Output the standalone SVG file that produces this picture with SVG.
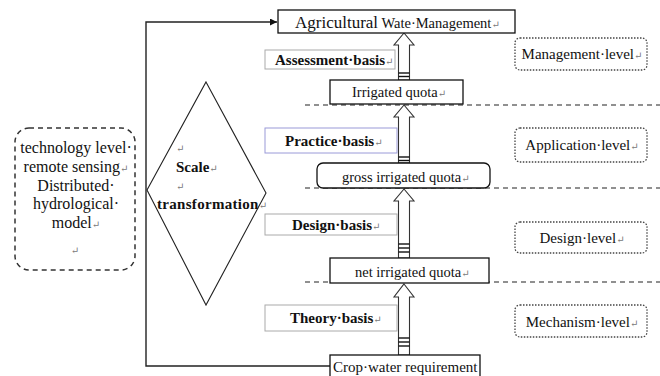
<svg xmlns="http://www.w3.org/2000/svg" width="660" height="376" viewBox="0 0 660 376" font-family="'Liberation Serif', 'DejaVu Serif', serif">
<defs>
<style>
text{font-family:'Liberation Serif','DejaVu Serif',serif;fill:#111;}
.t{font-size:14.5px;}
.lv{font-size:15px;}
.b{font-size:15px;font-weight:bold;}
.m{fill:#777;font-size:10px;font-weight:normal;}
.box{fill:#fff;stroke:#111;stroke-width:1.3;}
.gbox{fill:#fff;stroke:#aaa;stroke-width:1;}
.pbox{fill:#fff;stroke:#9a9ad8;stroke-width:1;}
.lvl{fill:#fff;stroke:#444;stroke-width:1.3;stroke-dasharray:1.5 1.5;}
.dash{stroke:#222;stroke-width:1.2;stroke-dasharray:5 4;fill:none;}
.harrow{fill:#fff;stroke:#333;stroke-width:1.1;}
.stripe{stroke:#111;stroke-width:1.4;}
.fb{fill:none;stroke:#222;stroke-width:1.4;}
.lt{font-size:16px;}
</style>
<marker id="ah" viewBox="0 0 10 10" refX="10" refY="5" markerWidth="7" markerHeight="7" markerUnits="userSpaceOnUse" orient="auto">
<path d="M0,0 L10,5 L0,10 z" fill="#111"/>
</marker>
</defs>

<g id="connectors">
<polyline class="fb" points="331,366 146,366 146,22 277,22" marker-end="url(#ah)"/>
<line class="dash" x1="305" y1="105" x2="660" y2="105"/>
<line class="dash" x1="305" y1="188" x2="660" y2="188"/>
<line class="dash" x1="305" y1="282" x2="660" y2="282"/>
<g id="arrow1">
<polygon class="harrow" points="404,33 414,45 409.5,45 409.5,80 398.5,80 398.5,45 394,45"/>
<line class="stripe" x1="398.5" y1="73" x2="409.5" y2="73"/>
<line class="stripe" x1="398.5" y1="76.5" x2="409.5" y2="76.5"/>
</g>
<g id="arrow2">
<polygon class="harrow" points="404,105 414,117 409.5,117 409.5,163 398.5,163 398.5,117 394,117"/>
<line class="stripe" x1="398.5" y1="157" x2="409.5" y2="157"/>
<line class="stripe" x1="398.5" y1="160.5" x2="409.5" y2="160.5"/>
</g>
<g id="arrow3">
<polygon class="harrow" points="404,189 414,201 409.5,201 409.5,258 398.5,258 398.5,201 394,201"/>
<line class="stripe" x1="398.5" y1="244" x2="409.5" y2="244"/>
<line class="stripe" x1="398.5" y1="248" x2="409.5" y2="248"/>
<line class="stripe" x1="398.5" y1="252" x2="409.5" y2="252"/>
</g>
<g id="arrow4">
<polygon class="harrow" points="404,284 414,297 409.5,297 409.5,355 398.5,355 398.5,297 394,297"/>
<line class="stripe" x1="398.5" y1="338" x2="409.5" y2="338"/>
<line class="stripe" x1="398.5" y1="342" x2="409.5" y2="342"/>
<line class="stripe" x1="398.5" y1="346" x2="409.5" y2="346"/>
</g>
</g>

<g id="agri">
<rect class="box" x="278" y="10" width="237" height="23"/>
<text x="295" y="28"><tspan font-size="17">Agricultural</tspan><tspan font-size="14.5"> Wate·Management</tspan><tspan class="m">↵</tspan></text>
</g>

<g id="assessment">
<rect class="gbox" x="265" y="50" width="130" height="19"/>
<text class="b" x="275" y="65">Assessment·basis<tspan class="m">↵</tspan></text>
</g>

<g id="irrigated">
<rect class="box" x="330" y="80" width="133" height="24"/>
<text class="t" x="352" y="97">Irrigated quota<tspan class="m">↵</tspan></text>
</g>

<g id="practice">
<rect class="pbox" x="265" y="128" width="132" height="25"/>
<text class="b" x="285" y="146" font-size="16">Practice·basis<tspan class="m">↵</tspan></text>
</g>

<g id="gross">
<rect class="box" x="317" y="163" width="173" height="25" rx="6"/>
<text class="t" x="342" y="182">gross irrigated quota<tspan class="m">↵</tspan></text>
</g>

<g id="design">
<rect class="gbox" x="265" y="214" width="132" height="21"/>
<text class="b" x="292" y="230">Design·basis<tspan class="m">↵</tspan></text>
</g>

<g id="net">
<rect class="box" x="330" y="258" width="159" height="25"/>
<text class="t" x="355" y="277">net irrigated quota<tspan class="m">↵</tspan></text>
</g>

<g id="theory">
<rect class="gbox" x="265" y="305" width="132" height="26"/>
<text class="b" x="290" y="323">Theory·basis<tspan class="m">↵</tspan></text>
</g>

<g id="crop">
<rect class="box" x="330" y="355" width="150" height="26"/>
<text x="333" y="372" font-size="15">Crop·water requirement</text>
</g>

<g id="scale">
<polygon points="206,82 266,193 206,305 147,190" fill="#fff" stroke="#222" stroke-width="1.1"/>
<text class="m" x="176" y="152">↵</text>
<text class="b" x="176" y="172">Scale<tspan class="m">↵</tspan></text>
<text class="m" x="176" y="190">↵</text>
<text class="b" x="157" y="209" font-size="12" letter-spacing="0.3">transformation<tspan class="m">↵</tspan></text>
</g>

<g id="technology">
<rect x="15" y="128" width="120" height="142" rx="14" fill="#fff" stroke="#333" stroke-width="1.5" stroke-dasharray="5 4"/>
<text class="lt" x="76" y="153" text-anchor="middle">technology level·</text>
<text class="lt" x="76" y="172" text-anchor="middle">remote sensing<tspan class="m">↵</tspan></text>
<text class="lt" x="76" y="191" text-anchor="middle">Distributed·</text>
<text class="lt" x="76" y="209" text-anchor="middle">hydrological·</text>
<text class="lt" x="76" y="228" text-anchor="middle">model<tspan class="m">↵</tspan></text>
<text class="m" x="75" y="254" text-anchor="middle" font-size="7">↵</text>
</g>

<g id="management-level">
<rect class="lvl" x="515" y="38" width="132" height="32" rx="5"/>
<text class="lv" x="582" y="59" text-anchor="middle">Management·level<tspan class="m">↵</tspan></text>
</g>
<g id="application-level">
<rect class="lvl" x="515" y="128" width="132" height="34" rx="5"/>
<text class="lv" x="582" y="150" text-anchor="middle">Application·level<tspan class="m">↵</tspan></text>
</g>
<g id="design-level">
<rect class="lvl" x="515" y="222" width="132" height="31" rx="5"/>
<text class="lv" x="582" y="243" text-anchor="middle">Design·level<tspan class="m">↵</tspan></text>
</g>
<g id="mechanism-level">
<rect class="lvl" x="515" y="305" width="132" height="32" rx="5"/>
<text class="lv" x="582" y="327" text-anchor="middle">Mechanism·level<tspan class="m">↵</tspan></text>
</g>
</svg>
